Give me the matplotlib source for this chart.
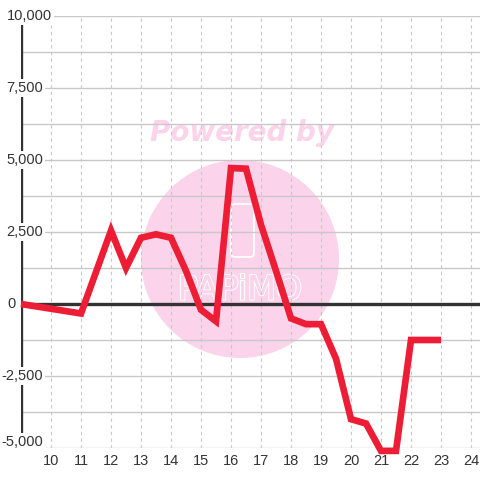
import matplotlib

matplotlib.use("Agg")
import matplotlib.pyplot as plt
import matplotlib.patheffects as pe
from matplotlib.patches import Circle, FancyBboxPatch
from matplotlib.transforms import ScaledTranslation, blended_transform_factory

# hourly readings (half-hour steps)
hours = [9, 11, 12, 12.5, 13, 13.5, 14, 14.5, 15, 15.5, 16, 16.5, 17, 17.5,
         18, 18.5, 19, 19.5, 20, 20.5, 21, 21.5, 22, 22.5, 23]
values = [0, -330, 2550, 1250, 2300, 2420, 2300, 1150, -200, -600, 4720, 4700,
          2750, 1150, -500, -700, -700, -1900, -4000, -4150, -5100, -5100,
          -1250, -1250, -1250]

x_ticks = list(range(10, 25))
y_ticks = [-5000, -2500, 0, 2500, 5000, 7500, 10000]
y_tick_labels = ["-5,000", "-2,500", "0", "2,500", "5,000", "7,500", "10,000"]

TEXT = "#333333"
GRID = "#c8c8c8"
RED = "#ee1d36"
PINK = "#fbd3ea"

plt.rcParams["font.family"] = ["Liberation Sans", "DejaVu Sans"]

fig = plt.figure(figsize=(4.8, 4.8), dpi=100)
ax = fig.add_axes([21 / 480, 32 / 480, 459 / 480, 432 / 480])
ax.set_xlim(9, 24.3)
ax.set_ylim(-5000, 10000)
for s in ax.spines.values():
    s.set_visible(False)
ax.set_xticks([])
ax.set_yticks([])

# watermark (pixel positions, origin bottom left)
ax.add_patch(Circle((240, 480 - 259), 99, transform=None, facecolor=PINK,
                    edgecolor="none", zorder=0))
ax.text(242 / 480, 1 - 133 / 480, "Powered by", transform=fig.transFigure,
        color=PINK, fontsize=20, fontweight="bold", fontstyle="oblique",
        family="DejaVu Sans", ha="center", va="center", zorder=0.2)
ax.add_patch(FancyBboxPatch((231, 480 - 257), 23, 53, transform=None,
                            boxstyle="round,pad=0,rounding_size=4",
                            facecolor="none", edgecolor="white", lw=1.3,
                            zorder=0.5))
ax.text(240 / 480, 1 - 290 / 480, "PAPiMO", transform=fig.transFigure,
        color=PINK, fontsize=24, family="DejaVu Sans", ha="center",
        va="center", zorder=0.5,
        path_effects=[pe.withStroke(linewidth=1.6, foreground="white"),
                      pe.Normal()])

# grid
for yv in range(-5000, 10001, 1250):
    ax.axhline(yv, color=GRID, lw=1, zorder=1)
for xv in x_ticks:
    ax.axvline(xv, color=GRID, lw=0.8, ls=(0, (3, 3)), zorder=1)

ax.axhline(0, color=TEXT, lw=2.4, zorder=2)
ax.axvline(9, color=TEXT, lw=2.4, zorder=2)

ax.plot(hours, values, color=RED, lw=4.8, solid_joinstyle="miter",
        solid_capstyle="butt", zorder=4, clip_on=False)

# y labels sit over the axis line on a white box
right_px = [43, 43, 16, 43, 43, 43, 52]
dy_px = [6, 0, 0, 0, 0, 0, 0]
trans = blended_transform_factory(fig.transFigure, ax.transData)
for yv, lab, rx, dy in zip(y_ticks, y_tick_labels, right_px, dy_px):
    t = ax.text(rx / 480, yv, lab, transform=trans, ha="right", va="center",
                fontsize=10.5, color=TEXT, zorder=5,
                bbox=dict(facecolor="white", edgecolor="none", pad=1.5))
    if dy:
        t.set_transform(trans + ScaledTranslation(0, dy / 100,
                                                  fig.dpi_scale_trans))

xtrans = blended_transform_factory(ax.transData, fig.transFigure)
for xv in x_ticks:
    ax.text(xv, 1 - 461 / 480, str(xv), transform=xtrans, ha="center",
            va="center", fontsize=10.5, color=TEXT)

fig.savefig("out.png", dpi=100)
